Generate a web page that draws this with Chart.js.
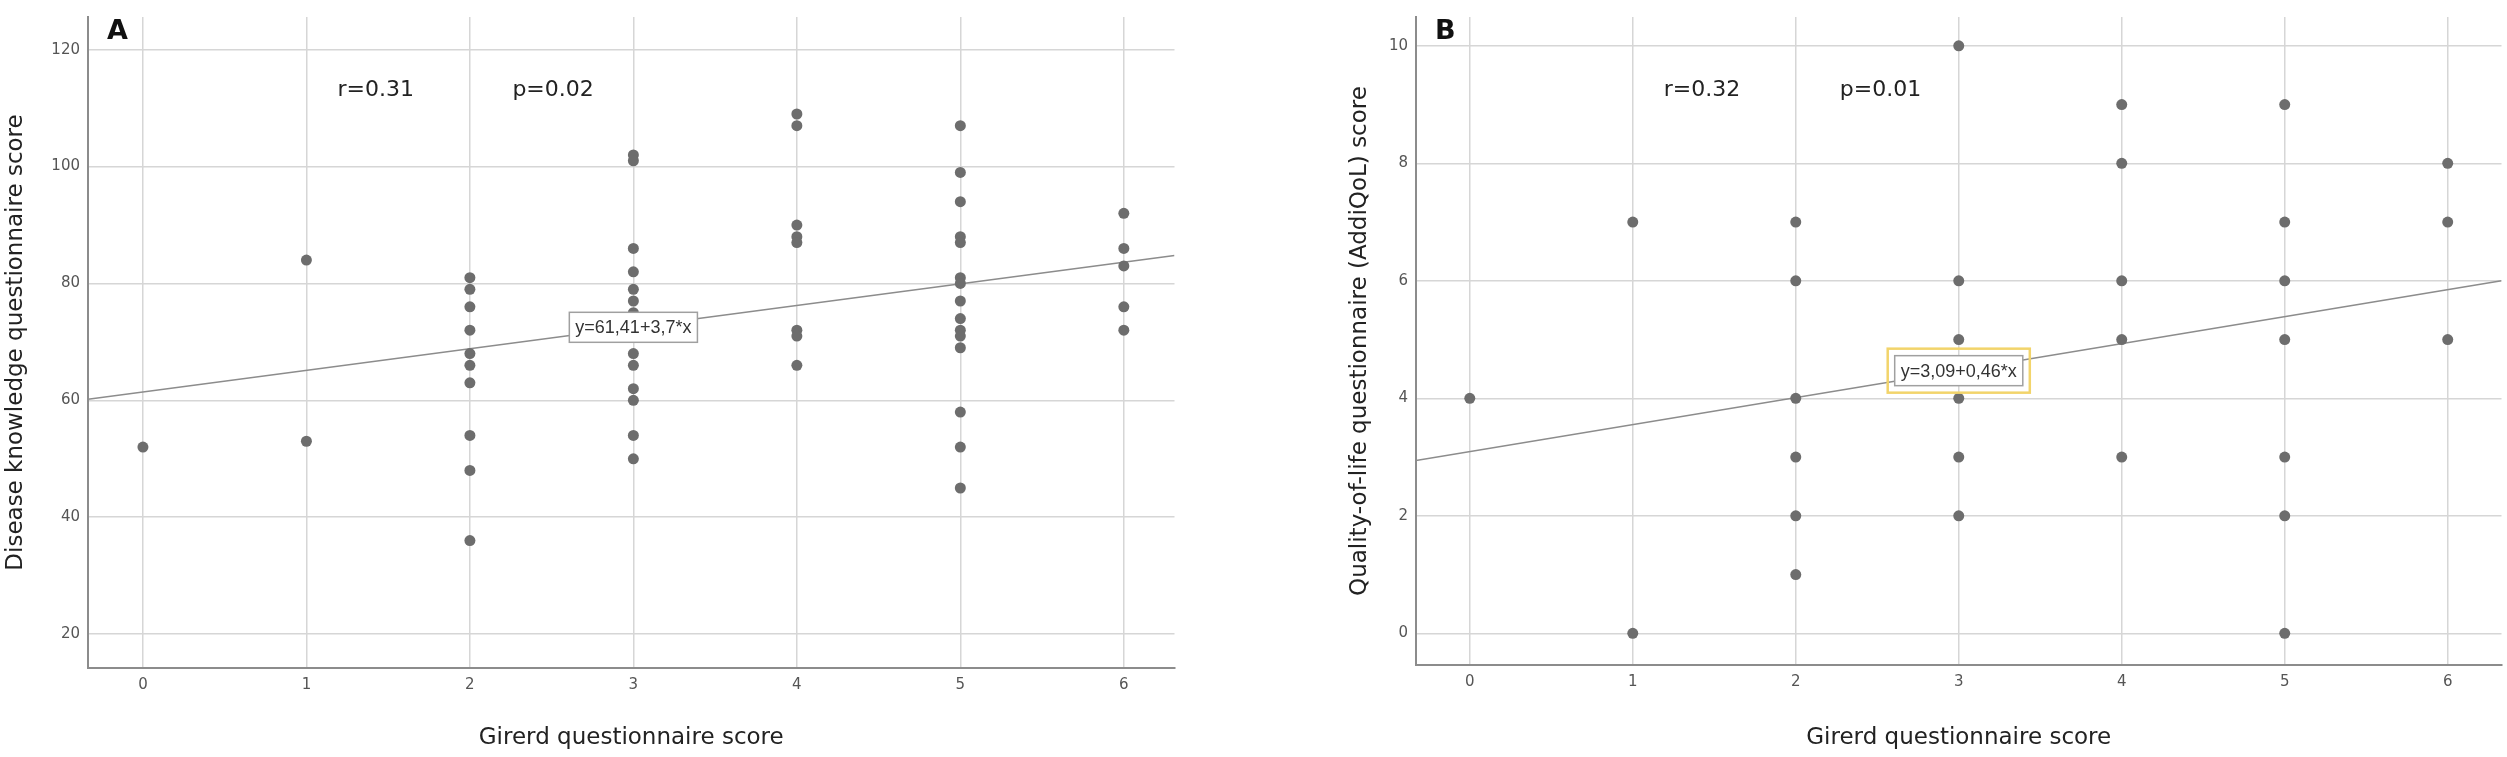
<!DOCTYPE html>
<html>
<head>
<meta charset="utf-8">
<script src="https://cdn.jsdelivr.net/npm/chart.js@4.4.1/dist/chart.umd.min.js"></script>
<style>
    html, body { margin: 0; padding: 0; background: #fff; }
    body { width: 2507px; height: 757px; position: relative; overflow: hidden; }
    .panel { position: absolute; top: 0; height: 757px; }
    #panelA { left: 0; width: 1180px; }
    #panelB { left: 1345px; width: 1162px; }
</style>
</head>
<body>
<div class="panel" id="panelA"><canvas id="chartA"></canvas></div>
<div class="panel" id="panelB"><canvas id="chartB"></canvas></div>
<script>
// Girerd score on x, one list of y values per score
const girerdScores = [0, 1, 2, 3, 4, 5, 6];

const knowledgeScores = [
    [52],
    [84, 53],
    [81, 79, 76, 72, 68, 66, 63, 54, 48, 36],
    [102, 101, 86, 82, 79, 77, 75, 68, 66, 62, 60, 54, 50],
    [109, 107, 90, 88, 87, 72, 71, 66],
    [107, 99, 94, 88, 87, 81, 80, 77, 74, 72, 71, 69, 58, 52, 45],
    [92, 86, 83, 76, 72]
];

const qolScores = [
    [4],
    [7, 0],
    [7, 6, 4, 3, 2, 1],
    [10, 6, 5, 4, 3, 2],
    [9, 8, 6, 5, 3],
    [9, 7, 6, 5, 3, 2, 0],
    [8, 7, 5]
];

// fit line ends
const fitLineA = [{ x: -0.336, y: 60.2 }, { x: 6.31, y: 84.8 }];
const fitLineB = [{ x: -0.33, y: 2.94 }, { x: 6.33, y: 6.0 }];

const yTicksA = [20, 40, 60, 80, 100, 120];
const yTicksB = [0, 2, 4, 6, 8, 10];

const statsA = [{ text: 'r=0.31', x: 1.19, y: 113 }, { text: 'p=0.02', x: 2.26, y: 113 }];
const statsB = [{ text: 'r=0.32', x: 1.19, y: 9.25 }, { text: 'p=0.01', x: 2.27, y: 9.25 }];

const equationA = { text: 'y=61,41+3,7*x', x: 3, y: 72.5 };
const equationB = { text: 'y=3,09+0,46*x', x: 3, y: 4.47 };

const FONT = '"DejaVu Sans", sans-serif';

function toPoints(groups) {
    const pts = [];
    groups.forEach((vals, i) => {
        vals.forEach(v => pts.push({ x: girerdScores[i], y: v }));
    });
    return pts;
}

const notesPlugin = {
    id: 'notes',
    afterDatasetsDraw(chart, args, opts) {
        const { ctx, chartArea } = chart;
        const x = chart.scales.x;
        const y = chart.scales.y;
        ctx.save();

        ctx.fillStyle = '#111';
        ctx.font = 'bold 27px ' + FONT;
        ctx.textBaseline = 'top';
        ctx.textAlign = 'left';
        ctx.fillText(opts.letter, chartArea.left + 19, chartArea.top + 1);

        ctx.font = '22px ' + FONT;
        ctx.fillStyle = '#222';
        ctx.textBaseline = 'middle';
        opts.stats.forEach(s => {
            ctx.fillText(s.text, x.getPixelForValue(s.x), y.getPixelForValue(s.y));
        });

        const eq = opts.equation;
        ctx.font = '18px "Liberation Sans", Arial, sans-serif';
        const w = ctx.measureText(eq.text).width + 12;
        const h = 30;
        const cx = x.getPixelForValue(eq.x);
        const cy = y.getPixelForValue(eq.y);
        if (opts.highlight) {
            ctx.strokeStyle = '#f2d46b';
            ctx.lineWidth = 2.5;
            ctx.strokeRect(cx - w / 2 - 7, cy - h / 2 - 7, w + 14, h + 14);
        }
        ctx.fillStyle = '#fff';
        ctx.fillRect(cx - w / 2, cy - h / 2, w, h);
        ctx.strokeStyle = '#a0a0a0';
        ctx.lineWidth = 1.5;
        ctx.strokeRect(cx - w / 2, cy - h / 2, w, h);
        ctx.fillStyle = '#333';
        ctx.textAlign = 'center';
        ctx.fillText(eq.text, cx, cy + 1);

        ctx.restore();
    }
};

function makeChart(canvasId, cfg) {
    const ctx = document.getElementById(canvasId).getContext('2d');
    return new Chart(ctx, {
        type: 'scatter',
        data: {
            datasets: [{
                data: toPoints(cfg.groups),
                backgroundColor: '#6d6d6d',
                borderColor: '#6d6d6d',
                pointRadius: 5.5,
                pointBorderWidth: 0
            }, {
                data: cfg.fitLine,
                showLine: true,
                borderColor: '#8c8c8c',
                borderWidth: 1.5,
                pointRadius: 0
            }]
        },
        plugins: [notesPlugin],
        options: {
            responsive: true,
            maintainAspectRatio: false,
            animation: false,
            layout: {
                padding: { top: cfg.top, right: cfg.right, left: 0, bottom: 0 }
            },
            plugins: {
                legend: { display: false },
                tooltip: { enabled: false },
                notes: {
                    letter: cfg.letter,
                    stats: cfg.stats,
                    equation: cfg.equation,
                    highlight: cfg.highlight
                }
            },
            scales: {
                x: {
                    type: 'linear',
                    min: cfg.xMin,
                    max: cfg.xMax,
                    afterFit: scale => { scale.height = cfg.xHeight; },
                    grid: { color: '#d6d6d6', lineWidth: 1.5, drawTicks: false },
                    border: { color: '#8c8c8c', width: 2 },
                    ticks: {
                        stepSize: 1,
                        includeBounds: false,
                        padding: 8,
                        color: '#555',
                        font: { family: FONT, size: 15 }
                    },
                    title: {
                        display: true,
                        text: 'Girerd questionnaire score',
                        color: '#222',
                        font: { family: FONT, size: 23 },
                        padding: { top: 0, bottom: 5 }
                    }
                },
                y: {
                    type: 'linear',
                    min: cfg.yMin,
                    max: cfg.yMax,
                    afterFit: scale => { scale.width = cfg.yWidth; },
                    afterBuildTicks: scale => {
                        scale.ticks = cfg.yTicks.map(v => ({ value: v }));
                    },
                    grid: { color: '#d6d6d6', lineWidth: 1.5, drawTicks: false },
                    border: { color: '#8c8c8c', width: 2 },
                    ticks: {
                        padding: 8,
                        color: '#555',
                        font: { family: FONT, size: 15 }
                    },
                    title: {
                        display: true,
                        text: cfg.yTitle,
                        color: '#222',
                        font: { family: FONT, size: 23 },
                        padding: { top: cfg.yTitlePad, bottom: 0 }
                    }
                }
            }
        }
    });
}

makeChart('chartA', {
    groups: knowledgeScores,
    fitLine: fitLineA,
    letter: 'A',
    stats: statsA,
    equation: equationA,
    highlight: false,
    yTitle: 'Disease knowledge questionnaire score',
    yTicks: yTicksA,
    xMin: -0.336, xMax: 6.31,
    yMin: 14.2, yMax: 125.6,
    top: 12, right: 5,
    xHeight: 89, yWidth: 88, yTitlePad: 2
});

makeChart('chartB', {
    groups: qolScores,
    fitLine: fitLineB,
    letter: 'B',
    stats: statsB,
    equation: equationB,
    highlight: true,
    yTitle: 'Quality-of-life questionnaire (AddiQoL) score',
    yTicks: yTicksB,
    xMin: -0.33, xMax: 6.33,
    yMin: -0.54, yMax: 10.49,
    top: 7, right: 3,
    xHeight: 92, yWidth: 71, yTitlePad: 1
});
</script>
</body>
</html>
